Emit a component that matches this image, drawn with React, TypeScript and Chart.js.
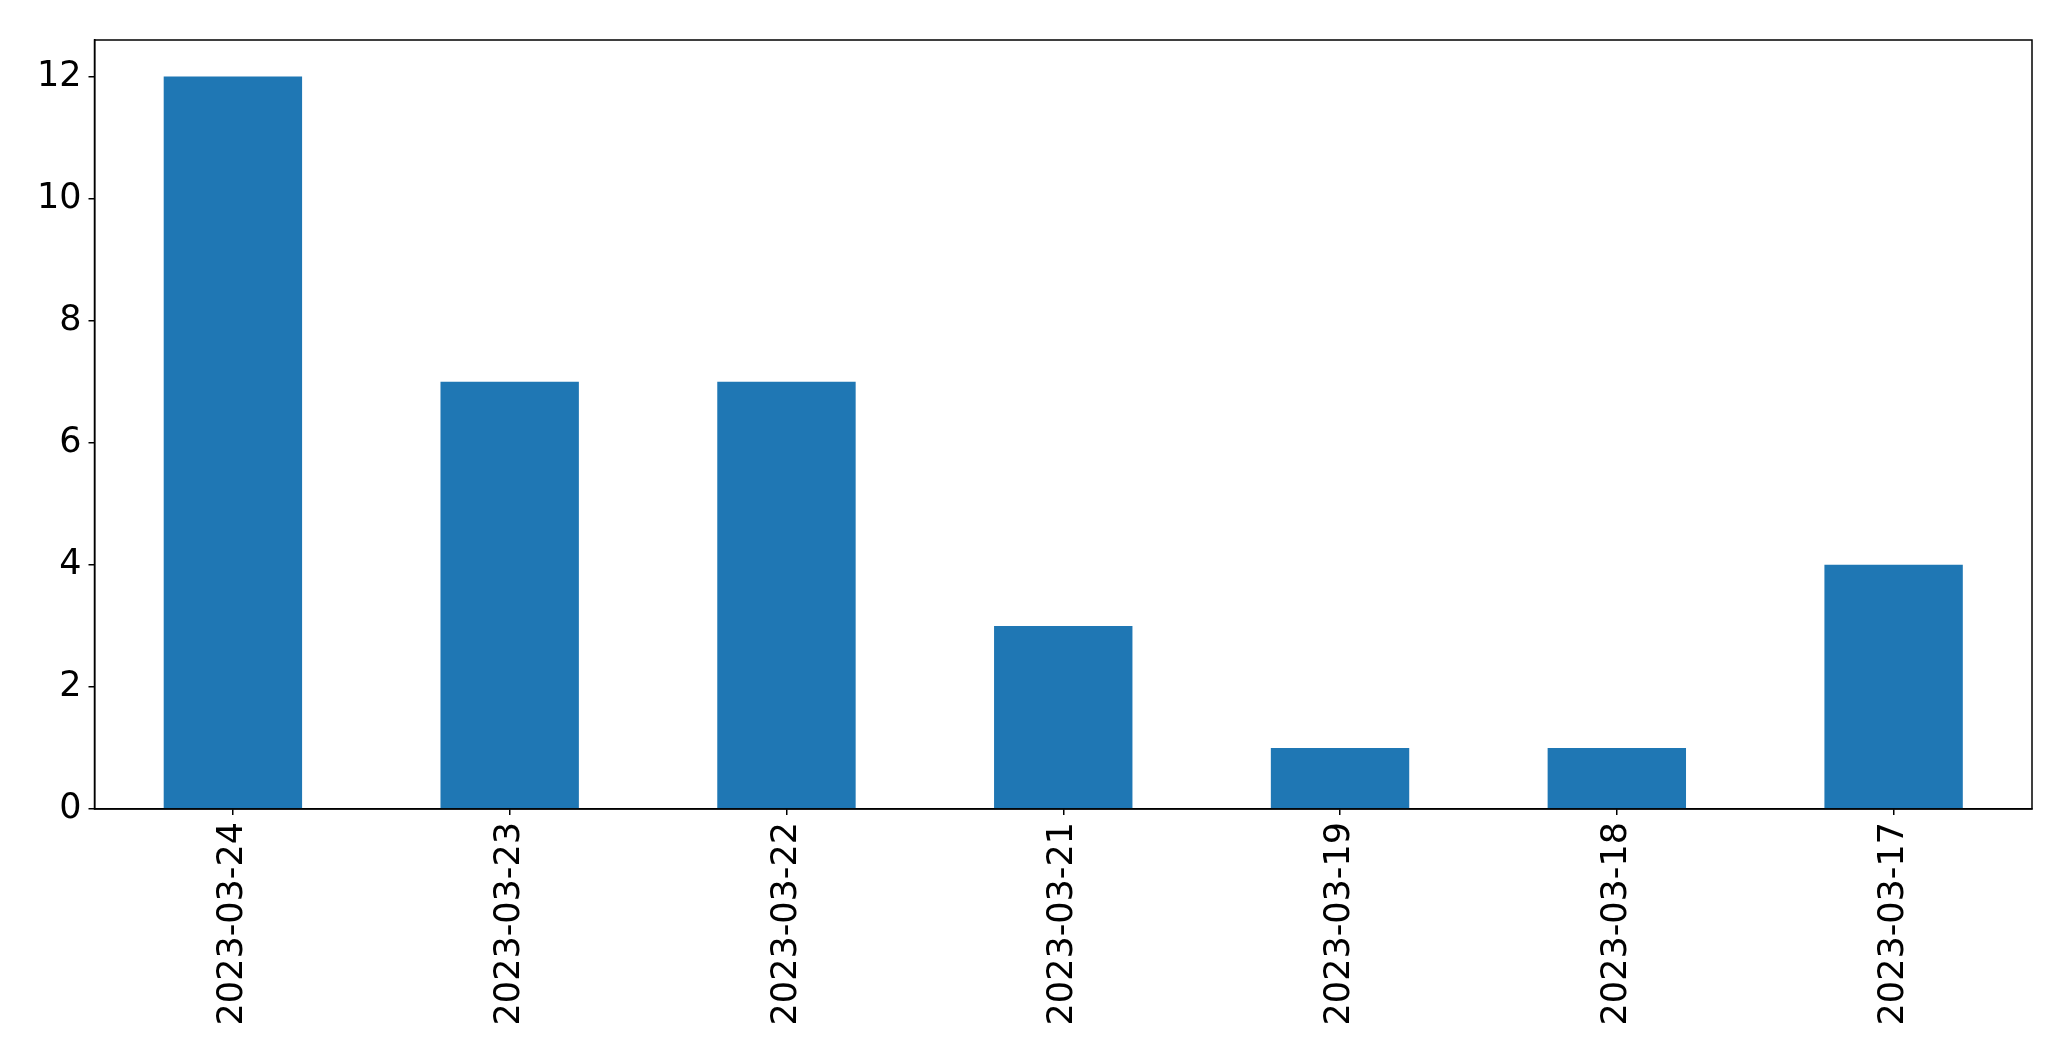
import React, { useEffect, useRef } from "react";
import { Chart, registerables } from "chart.js";

Chart.register(...registerables);

const categories = ["2023-03-24", "2023-03-23", "2023-03-22", "2023-03-21", "2023-03-19", "2023-03-18", "2023-03-17"];
const counts = [12, 7, 7, 3, 1, 1, 4];
const yTickValues = [0, 2, 4, 6, 8, 10, 12];

const W = 2071;
const H = 1061;

const frame = {
  id: "frame",
  afterDraw(chart: any) {
    const { ctx, chartArea } = chart;
    ctx.save();
    ctx.strokeStyle = "#000";
    ctx.lineWidth = 1.5;
    ctx.strokeRect(chartArea.left, chartArea.top, chartArea.right - chartArea.left, chartArea.bottom - chartArea.top);
    ctx.restore();
  },
};

export default function App() {
  const ref = useRef<HTMLCanvasElement>(null);
  useEffect(() => {
    document.body.style.margin = "0";
    const font = { family: "'DejaVu Sans'", size: 35 };
    const chart = new Chart(ref.current!, {
      type: "bar",
      data: {
        labels: categories,
        datasets: [
          {
            data: counts,
            backgroundColor: "#1f77b4",
            categoryPercentage: 1,
            barPercentage: 0.5,
          },
        ],
      },
      options: {
        animation: false,
        responsive: false,
        layout: { padding: { top: 40, right: 39, left: 0, bottom: 0 } },
        plugins: { legend: { display: false }, tooltip: { enabled: false } },
        scales: {
          x: {
            grid: { offset: false, drawOnChartArea: false, color: "#000", tickLength: 6, lineWidth: 1.5 },
            border: { display: true, color: "#000", width: 1.5 },
            ticks: { color: "#000", font, maxRotation: 90, minRotation: 90, padding: 7, autoSkip: false },
            afterFit(scale: any) {
              scale.height = H - 809;
            },
          },
          y: {
            min: 0,
            max: 12.6,
            grid: { drawOnChartArea: false, color: "#000", tickLength: 6, lineWidth: 1.5 },
            border: { display: true, color: "#000", width: 1.5 },
            ticks: { color: "#000", font, padding: 7 },
            afterBuildTicks(scale: any) {
              scale.ticks = yTickValues.map((v) => ({ value: v }));
            },
            afterFit(scale: any) {
              scale.width = 94.5;
            },
          },
        },
      },
      plugins: [frame],
    });
    return () => chart.destroy();
  }, []);
  return (
    <div style={{ position: "absolute", left: 0, top: 0, width: W, height: H, background: "#fff" }}>
      <canvas ref={ref} width={W} height={H} style={{ width: W, height: H, display: "block" }} />
    </div>
  );
}
